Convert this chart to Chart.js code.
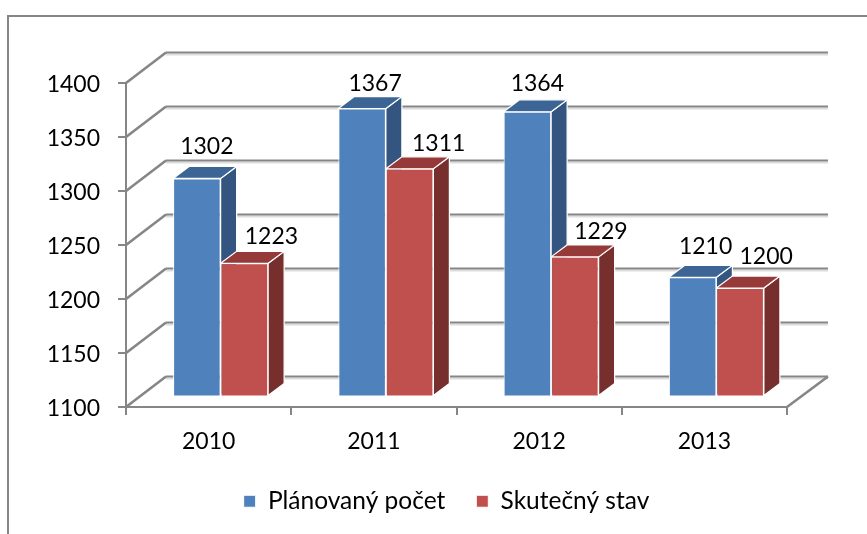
<!DOCTYPE html>
<html>
<head>
<meta charset="utf-8">
<title>Plánovaný počet / Skutečný stav</title>
<script src="https://cdn.jsdelivr.net/npm/chart.js@4"></script>
<style>
    html, body { margin: 0; padding: 0; background: #fff; overflow: hidden; }
    canvas { display: block; }
</style>
</head>
<body>
<canvas id="chart" width="867" height="534"></canvas>
<script>
// Chart data
const categories = ['2010', '2011', '2012', '2013'];
const plannedValues = [1302, 1367, 1364, 1210];
const actualValues = [1223, 1311, 1229, 1200];
const seriesNames = ['Plánovaný počet', 'Skutečný stav'];
const axisTicks = [1100, 1150, 1200, 1250, 1300, 1350, 1400];

const FONT = 'Lato';
const GRID = '#868686';

// Oblique look: back wall offset, bar plane offset and bar depth
const WALL_DX = 40, WALL_DY = -30.5;
const BAR_DX = 12, BAR_DY = -11.5, BAR_SCALE = 0.995;
const DEPTH_DX = 16, DEPTH_DY = -12;

// Face colours per series: top, side
const faces = [
    { top: '#3c6494', side: '#33557f' },
    { top: '#953a38', side: '#772f2e' }
];

// Data label offsets from the top of each bar, per series and point
const labelOffsets = [
    [[10, -32], [13, -25], [10, -28], [13, -31]],
    [[27, -27], [29, -25], [26, -25], [26, -31]]
];

function poly(ctx, points, fill) {
    ctx.beginPath();
    points.forEach((p, i) => (i ? ctx.lineTo(p[0], p[1]) : ctx.moveTo(p[0], p[1])));
    ctx.closePath();
    ctx.fillStyle = fill;
    ctx.fill();
    ctx.strokeStyle = '#fff';
    ctx.lineWidth = 1.2;
    ctx.stroke();
}

function line(ctx, points, color, width) {
    ctx.beginPath();
    points.forEach((p, i) => (i ? ctx.lineTo(p[0], p[1]) : ctx.moveTo(p[0], p[1])));
    ctx.strokeStyle = color;
    ctx.lineWidth = width;
    ctx.stroke();
}

function enterBarPlane(ctx, base) {
    ctx.translate(BAR_DX, base + BAR_DY);
    ctx.scale(1, BAR_SCALE);
    ctx.translate(0, -base);
}

const chart3d = {
    id: 'chart3d',
    beforeDraw(chart) {
        // Outer frame, only top and left are inside the picture
        line(chart.ctx, [[8, 534], [8, 16], [867, 16]], GRID, 2);
    },
    afterLayout(chart) {
        // Legend sits right of the canvas centre and higher than the default spot
        const legend = chart.legend;
        const h = legend.bottom - legend.top;
        legend.left += 106;
        legend.top = 489 - legend.options.labels.padding;
        legend.bottom = legend.top + h;
        // Tick labels are clipped to the axis box, give them the room
        chart.scales.x.bottom = chart.height;
    },
    beforeDatasetsDraw(chart) {
        const ctx = chart.ctx;
        const { left, right } = chart.chartArea;
        const y = chart.scales.y;
        const backLeft = left + WALL_DX;
        const backRight = right + WALL_DX + 1;
        axisTicks.forEach(tick => {
            const py = y.getPixelForValue(tick);
            const back = py + WALL_DY;
            line(ctx, [[backLeft, back + 2], [backRight, back + 2]], '#dcdcdc', 2);
            line(ctx, [[backLeft, back], [backRight, back]], GRID, 2);
            line(ctx, [[left, py], [backLeft, back]], GRID, 2.6);
        });
        // Right edge of the floor
        const base = y.getPixelForValue(axisTicks[0]);
        line(ctx, [[backRight, base + WALL_DY], [right, base]], GRID, 2.6);

        // Sides and tops of every bar go first, the front faces cover them
        ctx.save();
        enterBarPlane(ctx, base);
        chart.data.datasets.forEach((ds, i) => {
            chart.getDatasetMeta(i).data.forEach(bar => {
                const l = bar.x - bar.width / 2;
                const r = bar.x + bar.width / 2;
                poly(ctx, [[r, bar.y], [r + DEPTH_DX, bar.y + DEPTH_DY], [r + DEPTH_DX, base + DEPTH_DY], [r, base]], faces[i].side);
                poly(ctx, [[l, bar.y], [l + DEPTH_DX, bar.y + DEPTH_DY], [r + DEPTH_DX, bar.y + DEPTH_DY], [r, bar.y]], faces[i].top);
            });
        });
        ctx.restore();
    },
    beforeDatasetDraw(chart) {
        chart.ctx.save();
        enterBarPlane(chart.ctx, chart.scales.y.getPixelForValue(axisTicks[0]));
    },
    afterDatasetDraw(chart) {
        chart.ctx.restore();
    },
    afterDatasetsDraw(chart) {
        const ctx = chart.ctx;
        const base = chart.scales.y.getPixelForValue(axisTicks[0]);
        ctx.save();
        ctx.font = '23px ' + FONT;
        ctx.fillStyle = '#000';
        ctx.textAlign = 'center';
        ctx.textBaseline = 'middle';
        chart.data.datasets.forEach((ds, i) => {
            chart.getDatasetMeta(i).data.forEach((bar, j) => {
                const off = labelOffsets[i][j];
                const top = base + BAR_DY + (bar.y - base) * BAR_SCALE;
                ctx.fillText(ds.data[j], bar.x + BAR_DX + off[0], top + off[1]);
            });
        });
        ctx.restore();
    }
};

new Chart(document.getElementById('chart'), {
    type: 'bar',
    data: {
        labels: categories,
        datasets: [
            {
                label: seriesNames[0],
                data: plannedValues,
                backgroundColor: '#4f81bd',
                borderColor: '#fff',
                borderWidth: 1,
                borderSkipped: false
            },
            {
                label: seriesNames[1],
                data: actualValues,
                backgroundColor: '#c0504d',
                borderColor: '#fff',
                borderWidth: 1,
                borderSkipped: false
            }
        ]
    },
    options: {
        responsive: false,
        animation: false,
        layout: { padding: { top: 83, right: 80, bottom: 0, left: 0 } },
        datasets: { bar: { categoryPercentage: 0.575, barPercentage: 1 } },
        plugins: {
            title: { display: false },
            tooltip: { enabled: false },
            legend: {
                position: 'bottom',
                labels: {
                    font: { family: FONT, size: 24.5 },
                    color: '#000',
                    boxWidth: 12,
                    boxHeight: 12,
                    padding: 31
                }
            }
        },
        scales: {
            x: {
                afterFit(scale) { scale.height = 127 - scale.chart.legend.height; },
                border: { color: GRID, width: 2 },
                grid: { drawOnChartArea: false, color: GRID, lineWidth: 2, tickLength: 8 },
                ticks: { font: { family: FONT, size: 23 }, color: '#000', padding: 13, maxRotation: 0 }
            },
            y: {
                min: axisTicks[0],
                max: axisTicks[axisTicks.length - 1],
                afterFit(scale) { scale.width = 126; },
                border: { color: GRID, width: 2 },
                grid: { drawOnChartArea: false, color: GRID, lineWidth: 2, tickLength: 8 },
                ticks: {
                    font: { family: FONT, size: 23 },
                    color: '#000',
                    padding: 18,
                    stepSize: 50,
                    labelOffset: 2,
                    callback: value => String(value)
                }
            }
        }
    },
    plugins: [chart3d]
});
</script>
</body>
</html>
